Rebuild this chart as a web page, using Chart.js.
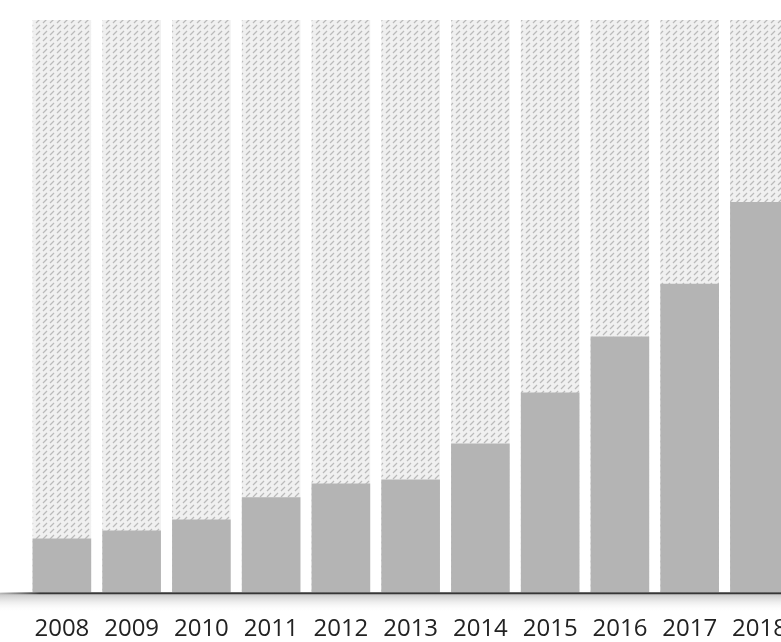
<!DOCTYPE html>
<html>
<head>
<meta charset="utf-8">
<script src="https://cdn.jsdelivr.net/npm/chart.js@4"></script>
<style>
  html, body { margin: 0; padding: 0; background: #fff; overflow: hidden; }
  #wrap { width: 781px; height: 642px; overflow: hidden; }
</style>
</head>
<body>
<div id="wrap"><canvas id="myChart" width="810" height="667"></canvas></div>
<script>
const years = ['2008', '2009', '2010', '2011', '2012', '2013', '2014', '2015', '2016', '2017', '2018'];
const values = [9.4, 10.8, 12.7, 16.6, 19.0, 19.7, 26.0, 34.9, 44.7, 53.9, 68.2];
const backdrop = [100, 100, 100, 100, 100, 100, 100, 100, 100, 100, 100];

// dotted hatch used behind each bar
function makePattern() {
    const c = document.createElement('canvas');
    c.width = 7;
    c.height = 6;
    const p = c.getContext('2d');
    p.fillStyle = '#f0f0f0';
    p.fillRect(0, 0, 7, 6);
    p.strokeStyle = '#bababa';
    p.lineWidth = 1.3;
    p.beginPath();
    p.moveTo(1, 5);
    p.lineTo(5, 1);
    p.stroke();
    return p.createPattern(c, 'repeat');
}

const baseline = {
    id: 'baseline',
    afterDraw(chart) {
        const { ctx, chartArea } = chart;
        const y = chartArea.bottom;
        const w = chart.width;
        ctx.save();
        const shade = ctx.createLinearGradient(0, y, 0, y + 20);
        shade.addColorStop(0, 'rgba(140,140,140,0.6)');
        shade.addColorStop(1, 'rgba(255,255,255,0)');
        ctx.fillStyle = shade;
        ctx.fillRect(0, y + 1, w, 20);
        const line = ctx.createLinearGradient(0, 0, 40, 0);
        line.addColorStop(0, 'rgba(90,90,90,0.2)');
        line.addColorStop(1, 'rgba(55,55,55,1)');
        ctx.strokeStyle = line;
        ctx.lineWidth = 2;
        ctx.beginPath();
        ctx.moveTo(0, y + 1);
        ctx.lineTo(w, y + 1);
        ctx.stroke();
        ctx.restore();
    }
};

const ctx = document.getElementById('myChart').getContext('2d');

const myChart = new Chart(ctx, {
    type: 'bar',
    data: {
        labels: years,
        datasets: [
            {
                data: values,
                backgroundColor: '#b4b4b4',
                order: 1
            },
            {
                data: backdrop,
                backgroundColor: makePattern(),
                order: 2
            }
        ]
    },
    options: {
        responsive: false,
        animation: false,
        layout: { padding: { left: 27, right: 3, top: 20, bottom: 0 } },
        datasets: {
            bar: {
                grouped: false,
                categoryPercentage: 1,
                barPercentage: 0.84
            }
        },
        plugins: {
            legend: { display: false },
            tooltip: { enabled: false }
        },
        scales: {
            x: {
                grid: { display: false, drawTicks: false },
                border: { display: false },
                ticks: {
                    padding: 23,
                    color: '#222',
                    maxRotation: 0,
                    autoSkip: false,
                    font: { family: 'Open Sans', size: 24, weight: '500' }
                }
            },
            y: {
                display: false,
                min: 0,
                max: 100
            }
        }
    },
    plugins: [baseline]
});
</script>
</body>
</html>
